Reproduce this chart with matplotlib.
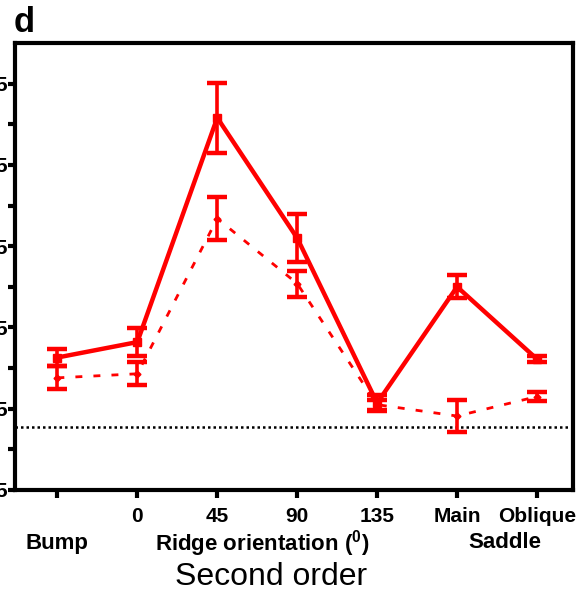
#Python code to plot second order response curves
import matplotlib.pyplot as plt
import numpy as np

plt.rcParams['font.family'] = ['Liberation Sans', 'DejaVu Sans']
plt.rcParams['mathtext.fontset'] = 'custom'
plt.rcParams['mathtext.rm'] = 'Liberation Sans'
plt.rcParams['mathtext.bf'] = 'Liberation Sans:bold'

#Data
categories = ['Bump', '0', '45', '90', '135', 'Main', 'Oblique']
tick_labels = ['', '0', '45', '90', '135', 'Main', 'Oblique']
solid_mean = [0.613, 0.632, 0.908, 0.760, 0.557, 0.700, 0.611]
solid_err = [0.011, 0.017, 0.043, 0.030, 0.010, 0.014, 0.004]
dashed_mean = [0.588, 0.593, 0.784, 0.704, 0.555, 0.541, 0.565]
dashed_err = [0.014, 0.014, 0.027, 0.016, 0.006, 0.020, 0.0055]
baseline = 0.528
yticks_major = [0.45, 0.55, 0.65, 0.75, 0.85, 0.95]
yticks_minor = [0.50, 0.60, 0.70, 0.80, 0.90]

x = np.arange(len(categories))

fig = plt.figure(figsize=(5.77, 5.92), dpi=100)
ax = fig.add_axes([15/577, 102/592, 558/577, 447/592])

ax.axhline(baseline, color='black', linestyle=(0, (1, 1.2)), linewidth=1.8, zorder=1)

ax.errorbar(x, solid_mean, yerr=solid_err, color='red', linewidth=3.2, marker='s',
            markersize=6, capsize=7, capthick=3.2, elinewidth=2.6, zorder=3)
ax.errorbar(x, dashed_mean, yerr=dashed_err, color='red', linewidth=2, linestyle=(0, (2.5, 4)),
            marker='D', markersize=3.5, capsize=7, capthick=3.2, elinewidth=2.6, zorder=2)

ax.set_xlim(-0.53, 6.45)
ax.set_ylim(0.45, 1.0)
ax.set_xticks(x)
ax.set_xticklabels(tick_labels, fontsize=15, fontweight='bold')
ax.set_yticks(yticks_major)
ax.set_yticks(yticks_minor, minor=True)
ax.set_yticklabels(['%.2f' % v for v in yticks_major], fontsize=15, fontweight='bold')
ax.tick_params(axis='x', which='major', length=6, width=3, pad=6)
ax.tick_params(axis='y', which='major', length=5, width=3, pad=0.5)
ax.tick_params(axis='y', which='minor', length=5, width=3)
for s in ax.spines.values():
    s.set_linewidth(3)

fig.text(14/577, 1 - 23/592, 'd', fontsize=25, fontweight='bold', ha='left', va='center')
fig.text(57/577, 1 - 543/592, 'Bump', fontsize=16, fontweight='bold', ha='center', va='center')
fig.text(262/577, 1 - 544/592, r'Ridge orientation ($^{\mathbf{0}}$)', fontsize=16,
         fontweight='bold', ha='center', va='center')
fig.text(505/577, 1 - 543/592, 'Saddle', fontsize=16, fontweight='bold', ha='center', va='center')
fig.text(271/577, 1 - 577/592, 'Second order', fontsize=23, ha='center', va='center')

plt.savefig('out.png', dpi=100)
